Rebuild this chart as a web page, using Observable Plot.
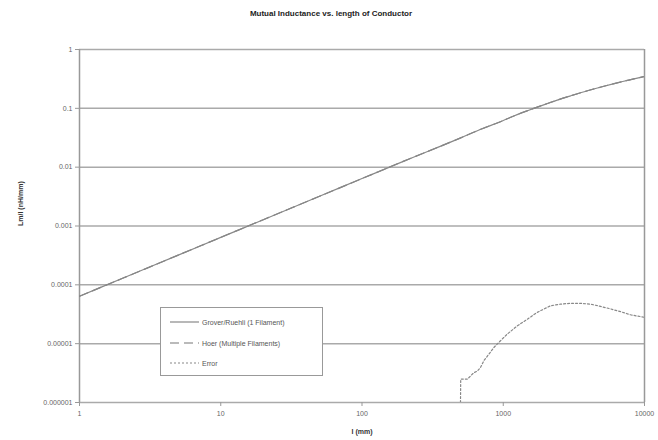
<!DOCTYPE html>
<html>
<head>
<meta charset="utf-8">
<script src="https://cdn.jsdelivr.net/npm/d3@7"></script>
<script src="https://cdn.jsdelivr.net/npm/@observablehq/plot@0.6"></script>
<style>
  html, body { margin: 0; padding: 0; background: #fff; }
  body { width: 658px; height: 440px; position: relative; overflow: hidden; font-family: "Liberation Sans", Arial, sans-serif; }
  #title { position: absolute; left: 0; top: 9px; width: 658px; text-align: center; font-size: 8px; font-weight: bold; color: #222; padding-left: 2px; }
  #chart { position: absolute; left: 0; top: 30px; }
  #legend { position: absolute; left: 160px; top: 307px; width: 161px; height: 67px; border: 1.5px solid #999; background: #fff; font-size: 7px; color: #555; }
  .item { position: absolute; left: 9px; height: 10px; display: flex; align-items: center; }
  .item svg { margin-right: 3px; }
</style>
</head>
<body>
<div id="title">Mutual Inductance vs. length of Conductor</div>
<div id="chart"></div>
<div id="legend">
  <div class="item" style="top:9px"><svg width="29" height="4"><line x1="0" y1="2" x2="29" y2="2" stroke="#888" stroke-width="1.2"/></svg>Grover/Ruehli (1 Filament)</div>
  <div class="item" style="top:30px"><svg width="29" height="4"><line x1="0" y1="2" x2="29" y2="2" stroke="#777" stroke-width="1.2" stroke-dasharray="9,5"/></svg>Hoer (Multiple Filaments)</div>
  <div class="item" style="top:50px"><svg width="29" height="4"><line x1="0" y1="2" x2="29" y2="2" stroke="#888" stroke-width="1.2" stroke-dasharray="2,2"/></svg>Error</div>
</div>
<script>
// Conductor length l (mm)
const lengths = [1, 2, 5, 10, 20, 50, 100, 200, 500, 700, 1000, 1200, 1500, 2000, 2500, 3000, 4000, 5000, 6000, 7000, 8000, 10000];
// Grover/Ruehli (1 filament) Lm/l (nH/mm)
const grover = [6.4e-5, 1.28e-4, 3.2e-4, 6.4e-4, 1.28e-3, 3.2e-3, 6.4e-3, 0.0128, 0.0315, 0.0445, 0.062, 0.075, 0.092, 0.118, 0.142, 0.163, 0.201, 0.233, 0.261, 0.286, 0.308, 0.348];
// Hoer (multiple filaments)
const hoer = [6.4e-5, 1.28e-4, 3.2e-4, 6.4e-4, 1.28e-3, 3.2e-3, 6.4e-3, 0.0128, 0.0315, 0.0445, 0.062, 0.075, 0.092, 0.118, 0.142, 0.163, 0.201, 0.233, 0.261, 0.286, 0.308, 0.348];
// Error
const errLengths = [498, 500, 558, 618, 653, 689, 728, 790, 858, 956, 1066, 1255, 1479, 1739, 2159, 2541, 2992, 3500, 4150, 4883, 5747, 6761, 7950, 10000];
const errValues = [1e-6, 2.5e-6, 2.5e-6, 3.2e-6, 3.4e-6, 3.9e-6, 5.1e-6, 6.6e-6, 8.6e-6, 1.12e-5, 1.45e-5, 2.0e-5, 2.6e-5, 3.4e-5, 4.4e-5, 4.7e-5, 4.85e-5, 4.85e-5, 4.7e-5, 4.3e-5, 3.9e-5, 3.5e-5, 3.1e-5, 2.8e-5];

const yTicks = [1, 0.1, 0.01, 0.001, 0.0001, 0.00001, 0.000001];
const yTickLabels = ["1", "0.1", "0.01", "0.001", "0.0001", "0.00001", "0.000001"];
const xTicks = [1, 10, 100, 1000, 10000];
const xTickLabels = ["1", "10", "100", "1000", "10000"];

const groverData = lengths.map((l, i) => ({l, v: grover[i]}));
const hoerData = lengths.map((l, i) => ({l, v: hoer[i]}));
const errData = errLengths.map((l, i) => ({l, v: errValues[i]}));

const chart = Plot.plot({
  width: 658,
  height: 410,
  marginLeft: 79,
  marginRight: 14,
  marginTop: 19,
  marginBottom: 38,
  style: {fontFamily: "Liberation Sans, Arial, sans-serif", fontSize: "7px", color: "#555", background: "#fff"},
  x: {type: "log", domain: [1, 10000]},
  y: {type: "log", domain: [1e-6, 1]},
  marks: [
    Plot.ruleY(yTicks, {stroke: "#aaa", strokeWidth: 1.5}),
    Plot.ruleX([1, 10000], {stroke: "#999", strokeWidth: 1.5}),
    Plot.axisY({ticks: yTicks, tickFormat: (d) => yTickLabels[yTicks.indexOf(d)], tickSize: 4, tickPadding: 3, stroke: "#999", fill: "#666", label: null}),
    Plot.axisX({ticks: xTicks, tickFormat: (d) => xTickLabels[xTicks.indexOf(d)], tickSize: 4, tickPadding: 5, stroke: "#999", fill: "#666", label: null}),
    Plot.text(["Lm/l (nH/mm)"], {frameAnchor: "left", dx: -59, rotate: -90, fontWeight: "bold", fill: "#333", fontSize: 7}),
    Plot.text(["l (mm)"], {frameAnchor: "bottom", dy: 31, fontWeight: "bold", fill: "#333", fontSize: 7}),
    Plot.line(hoerData, {x: "l", y: "v", stroke: "#777", strokeWidth: 1.2, strokeDasharray: "9,5", curve: "monotone-x", clip: true}),
    Plot.line(groverData, {x: "l", y: "v", stroke: "#888", strokeWidth: 1.2, curve: "monotone-x", clip: true}),
    Plot.line(errData, {x: "l", y: "v", stroke: "#888", strokeWidth: 1.2, strokeDasharray: "2,2", clip: true})
  ]
});
document.getElementById("chart").appendChild(chart);
</script>
</body>
</html>
